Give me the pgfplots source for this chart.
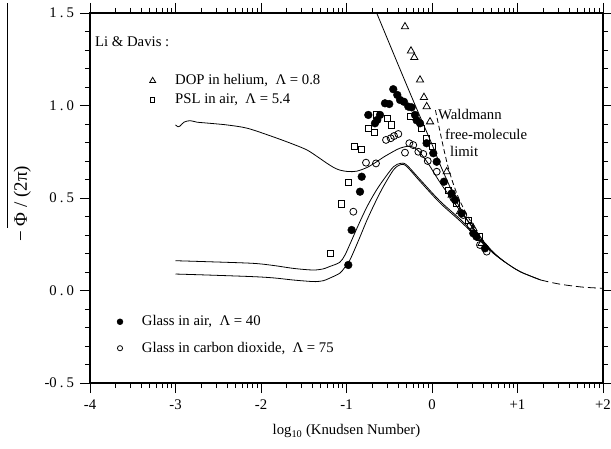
\documentclass[border=0pt]{standalone}
\usepackage{fontspec}
\setmainfont{Liberation Serif}
\usepackage{pgfplots}
\pgfplotsset{compat=1.18}
\begin{document}
\fontsize{14.8}{17.5}\selectfont
\begin{tikzpicture}
\begin{axis}[
  at={(0,0)}, anchor=south west,
  scale only axis, width=513bp, height=370bp,
  xmin=-4, xmax=2, ymin=-0.5, ymax=1.5,
  clip mode=individual,
  axis line style={line width=1.1pt},
  tick align=outside,
  major tick length=10bp, minor tick length=5bp,
  every tick/.style={black, line width=0.9pt},
  xtick={-4,-3,-2,-1,0,1,2},
  xticklabels={-4,-3,-2,-1,0,+1,+2},
  minor xtick={-3.699,-3.523,-3.398,-3.301,-3.222,-3.155,-3.097,-3.046,
               -2.699,-2.523,-2.398,-2.301,-2.222,-2.155,-2.097,-2.046,
               -1.699,-1.523,-1.398,-1.301,-1.222,-1.155,-1.097,-1.046,
               -0.699,-0.523,-0.398,-0.301,-0.222,-0.155,-0.097,-0.046,
               0.301,0.477,0.602,0.699,0.778,0.845,0.903,0.954,
               1.301,1.477,1.602,1.699,1.778,1.845,1.903,1.954},
  ytick={-0.5,0,0.5,1,1.5},
  yticklabels={-0\kern3pt.\kern3pt5,0\kern3pt.\kern3pt0,0\kern3pt.\kern3pt5,1\kern3pt.\kern3pt0,1\kern3pt.\kern3pt5},
  minor ytick={-0.4,-0.3,-0.2,-0.1,0.1,0.2,0.3,0.4,0.6,0.7,0.8,0.9,1.1,1.2,1.3,1.4},
  xticklabel style={yshift=-2bp},
  yticklabel style={xshift=-1bp},
  xlabel={log\textsubscript{10} (Knudsen Number)},
  every axis x label/.style={at={(axis description cs:0.5,-0.131)},anchor=center},
  ylabel={\fontsize{19}{22}\selectfont − Φ / (2π)},
  every axis y label/.style={at={(axis description cs:-0.132,0.484)},rotate=90,anchor=center},
]
% theory curves
\addplot[black, line width=0.8pt, smooth] coordinates {
(-3.0,0.895)(-2.97,0.885)(-2.95,0.888)(-2.90,0.910)(-2.83,0.918)(-2.75,0.910)(-2.63,0.905)(-2.4,0.895)(-2.16,0.877)(-1.86,0.831)(-1.62,0.79)(-1.46,0.759)(-1.33,0.72)(-1.23,0.688)(-1.15,0.665)(-1.08,0.651)(-0.98,0.643)(-0.88,0.645)(-0.76,0.665)(-0.65,0.695)(-0.57,0.72)(-0.45,0.752)(-0.37,0.77)(-0.26,0.78)(-0.17,0.76)(-0.05,0.69)(0.1,0.58)(0.33,0.43)(0.56,0.29)(0.72,0.205)(0.85,0.155)(1.03,0.102)(1.27,0.057)};
\addplot[black, line width=0.8pt, smooth] coordinates {
(-3.0,0.161)(-2.65,0.156)(-2.1,0.147)(-1.85,0.135)(-1.63,0.120)(-1.45,0.112)(-1.36,0.111)(-1.27,0.117)(-1.2,0.129)(-1.08,0.152)(-1.02,0.19)(-0.96,0.25)(-0.86,0.355)(-0.76,0.453)(-0.66,0.535)(-0.57,0.597)(-0.45,0.669)(-0.37,0.687)(-0.30,0.68)(-0.14,0.60)(0.09,0.485)(0.33,0.385)(0.56,0.28)(0.72,0.205)(0.85,0.155)(1.03,0.102)(1.27,0.057)};
\addplot[black, line width=0.8pt, smooth] coordinates {
(-3.0,0.089)(-2.65,0.084)(-2.1,0.075)(-1.85,0.068)(-1.63,0.057)(-1.45,0.050)(-1.36,0.048)(-1.27,0.053)(-1.2,0.066)(-1.08,0.093)(-1.02,0.125)(-0.96,0.165)(-0.86,0.27)(-0.76,0.381)(-0.66,0.48)(-0.57,0.561)(-0.45,0.652)(-0.37,0.68)(-0.30,0.672)(-0.14,0.59)(0.09,0.475)(0.33,0.375)(0.56,0.272)(0.72,0.2)(0.85,0.155)};
\addplot[black, line width=0.8pt, smooth] coordinates {
(-0.647,1.5)(-0.4,1.225)(-0.2,1.005)(0,0.79)(0.1,0.675)(0.2,0.57)(0.3,0.47)(0.4,0.39)(0.56,0.29)};
% Waldmann free-molecule limit
\addplot[black, line width=0.8pt, dash pattern=on 5bp off 3bp, smooth] coordinates {
(0.04,0.975)(0.1,0.845)(0.15,0.74)(0.19,0.665)(0.25,0.575)(0.33,0.48)(0.45,0.375)(0.55,0.30)(0.65,0.24)};
\addplot[black, line width=0.8pt, dash pattern=on 8bp off 4bp, smooth] coordinates {
(1.27,0.057)(1.4,0.043)(1.54,0.031)(1.77,0.018)(2.0,0.012)};
% DOP in helium
\addplot[only marks, mark=triangle, mark size=4.2pt, mark options={line width=0.8pt, fill=white}] coordinates {
(-0.316,1.426)(-0.246,1.295)(-0.207,1.260)(-0.140,1.138)(-0.094,1.044)(-0.062,0.994)(-0.023,0.912)(0.172,0.642)(0.23,0.516)(0.327,0.426)(0.483,0.336)(0.58,0.255)};
% PSL in air
\addplot[only marks, mark=square, mark size=3.1pt, mark options={line width=0.8pt, fill=white}] coordinates {
(-1.185,0.201)(-1.056,0.468)(-0.979,0.583)(-0.909,0.781)(-0.822,0.763)(-0.745,0.877)(-0.678,0.853)(-0.647,0.949)(-0.523,0.93)(-0.471,0.895)(-0.257,0.94)(-0.121,0.877)(-0.062,0.823)(0.008,0.777)(0.19,0.543)(0.29,0.47)(0.43,0.38)(0.55,0.29)};
% Glass in air
\addplot[only marks, mark=*, mark size=3.9pt, mark options={fill=black}] coordinates {
(-0.979,0.138)(-0.94,0.327)(-0.842,0.534)(-0.822,0.615)(-0.745,0.949)(-0.667,0.904)(-0.64,0.922)(-0.608,0.949)(-0.55,1.012)(-0.5,1.008)(-0.453,1.088)(-0.406,1.057)(-0.374,1.03)(-0.328,1.02)(-0.277,0.994)(-0.238,0.99)(-0.199,0.949)(-0.18,0.92)(-0.14,0.904)(-0.063,0.796)(0.015,0.742)(0.055,0.696)(0.14,0.588)(0.23,0.525)(0.27,0.489)(0.347,0.417)(0.483,0.309)(0.52,0.291)(0.62,0.228)};
% Glass in carbon dioxide
\addplot[only marks, mark=o, mark size=3.5pt, mark options={line width=0.8pt, fill=white}] coordinates {
(-0.92,0.426)(-0.772,0.691)(-0.655,0.687)(-0.538,0.814)(-0.483,0.823)(-0.444,0.835)(-0.394,0.846)(-0.316,0.745)(-0.265,0.796)(-0.219,0.786)(-0.16,0.75)(-0.102,0.738)(-0.05,0.70)(0.055,0.642)(0.249,0.5)(0.366,0.408)(0.45,0.35)(0.561,0.246)(0.64,0.21)};
% legend markers
\addplot[only marks, mark=triangle, mark size=3.4pt, mark options={line width=0.8pt}] coordinates {(-3.267,1.134)};
\addplot[only marks, mark=square, mark size=2.2pt, mark options={line width=0.8pt}] coordinates {(-3.267,1.030)};
\addplot[only marks, mark=*, mark size=3.0pt, mark options={fill=black}] coordinates {(-3.649,-0.169)};
\addplot[only marks, mark=o, mark size=2.6pt, mark options={line width=0.8pt}] coordinates {(-3.649,-0.312)};
% texts
\node[anchor=west, inner sep=0pt] at (axis cs:-3.942,1.343) {Li \& Davis :};
\node[anchor=west, inner sep=0pt] at (axis cs:-3.006,1.134) {DOP in helium,\ \ Λ = 0.8};
\node[anchor=west, inner sep=0pt] at (axis cs:-3.006,1.030) {PSL in air,\ \ Λ = 5.4};
\node[anchor=west, inner sep=0pt] at (axis cs:-3.395,-0.169) {Glass in air,\ \ Λ = 40};
\node[anchor=west, inner sep=0pt] at (axis cs:-3.395,-0.312) {Glass in carbon dioxide,\ \ Λ = 75};
\node[anchor=west, inner sep=0pt] at (axis cs:0.070,0.949) {Waldmann};
\node[anchor=west, inner sep=0pt] at (axis cs:0.152,0.846) {free-molecule};
\node[anchor=west, inner sep=0pt] at (axis cs:0.211,0.749) {limit};
\end{axis}
\draw[line width=0.8pt] (-83bp,155bp) -- (-83bp,380bp);
\pgfresetboundingbox
\useasboundingbox (-90bp,-66bp) rectangle (521bp,383bp);
\end{tikzpicture}
\end{document}
